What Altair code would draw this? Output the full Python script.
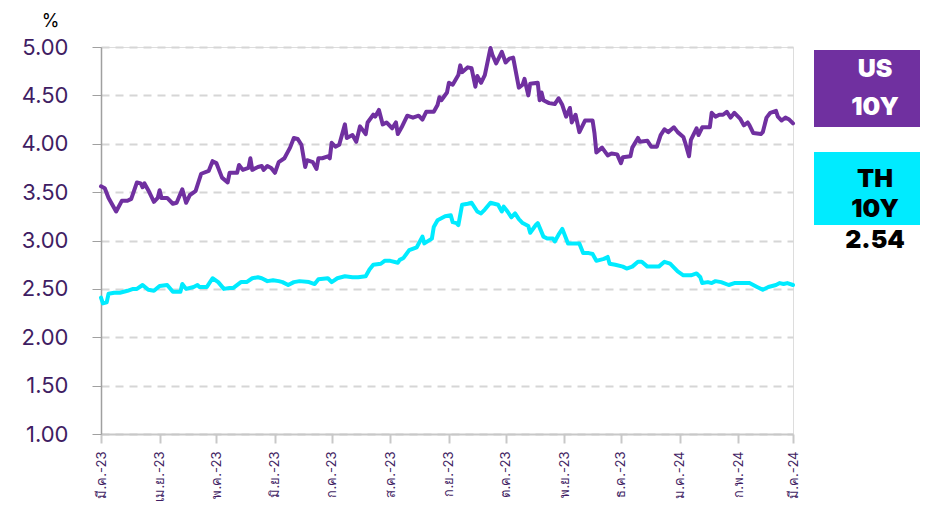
import altair as alt
import pandas as pd

start = "2023-03-01"
month_ticks = ["2023-03-01", "2023-04-01", "2023-05-01", "2023-06-01", "2023-07-01",
               "2023-08-01", "2023-09-01", "2023-10-01", "2023-11-01", "2023-12-01",
               "2024-01-01", "2024-02-01", "2024-03-01"]
thai_months = ["ม.ค.", "ก.พ.", "มี.ค.", "เม.ย.", "พ.ค.", "มิ.ย.", "ก.ค.", "ส.ค.", "ก.ย.", "ต.ค.", "พ.ย.", "ธ.ค."]
y_ticks = [1.0, 1.5, 2.0, 2.5, 3.0, 3.5, 4.0, 4.5, 5.0]

# days since 2023-03-01, yield (%)
us_days = [0, 2, 4, 6, 8, 11, 14, 16, 19, 21, 22, 23, 25, 28, 30, 31, 32, 35, 38, 40,
           43, 45, 47, 50, 53, 57, 59, 61, 64, 67, 68, 72, 73, 75, 78, 79, 80, 83, 85, 86,
           88, 90, 92, 94, 97, 100, 102, 104, 106, 108, 109, 112, 114, 115, 117, 120, 121, 122, 124, 126,
           129, 130, 133, 135, 137, 140, 141, 144, 145, 147, 149, 151, 154, 156, 157, 159, 162, 165, 168, 170,
           172, 176, 178, 179, 180, 183, 184, 186, 189, 190, 191, 194, 196, 198, 199, 201, 203, 206, 207, 209,
           212, 214, 216, 218, 221, 223, 224, 226, 227, 231, 232, 233, 234, 237, 240, 242, 244, 246, 248, 249,
           251, 253, 256, 260, 261, 262, 265, 268, 270, 273, 275, 276, 280, 281, 284, 285, 289, 291, 294, 296,
           298, 300, 303, 305, 308, 309, 311, 312, 315, 316, 318, 322, 323, 325, 327, 329, 331, 333, 335, 338,
           340, 342, 343, 345, 349, 350, 352, 354, 357, 358, 360, 362, 364, 366]
us_vals = [3.56, 3.54, 3.44, 3.37, 3.30, 3.41, 3.41, 3.43, 3.60, 3.59, 3.55, 3.59, 3.52, 3.40, 3.44, 3.52, 3.44, 3.44, 3.38, 3.39,
           3.53, 3.39, 3.47, 3.51, 3.69, 3.72, 3.82, 3.80, 3.65, 3.60, 3.70, 3.70, 3.78, 3.73, 3.75, 3.85, 3.73, 3.76, 3.77, 3.73,
           3.77, 3.75, 3.70, 3.81, 3.85, 3.96, 4.06, 4.05, 3.99, 3.76, 3.83, 3.81, 3.74, 3.85, 3.85, 3.87, 3.85, 4.01, 3.97, 3.99,
           4.20, 4.06, 4.09, 4.02, 4.18, 4.10, 4.22, 4.30, 4.28, 4.35, 4.20, 4.22, 4.16, 4.22, 4.10, 4.17, 4.29, 4.27, 4.29, 4.25,
           4.33, 4.33, 4.40, 4.48, 4.45, 4.53, 4.63, 4.61, 4.71, 4.81, 4.74, 4.79, 4.78, 4.59, 4.70, 4.63, 4.71, 4.99, 4.92, 4.83,
           4.95, 4.84, 4.88, 4.89, 4.58, 4.61, 4.67, 4.50, 4.62, 4.63, 4.45, 4.53, 4.45, 4.42, 4.41, 4.47, 4.40, 4.28, 4.37, 4.22,
           4.30, 4.12, 4.24, 4.24, 4.11, 3.91, 3.96, 3.88, 3.90, 3.89, 3.80, 3.86, 3.87, 3.96, 4.06, 4.02, 4.03, 3.97, 3.97, 4.09,
           4.15, 4.12, 4.17, 4.12, 4.07, 4.01, 3.87, 4.04, 4.16, 4.09, 4.17, 4.17, 4.32, 4.28, 4.30, 4.30, 4.33, 4.27, 4.32, 4.26,
           4.19, 4.22, 4.19, 4.11, 4.10, 4.12, 4.27, 4.32, 4.34, 4.28, 4.24, 4.27, 4.25, 4.21]

th_days = [0, 1, 3, 4, 7, 10, 14, 17, 19, 22, 25, 28, 31, 35, 38, 40, 42, 43, 45, 49,
           51, 52, 56, 59, 62, 65, 68, 70, 74, 77, 80, 83, 85, 88, 91, 94, 96, 99, 102, 105,
           110, 113, 115, 120, 122, 125, 129, 133, 136, 140, 142, 144, 148, 150, 153, 157, 158, 160, 163, 167,
           170, 171, 175, 176, 178, 182, 185, 186, 188, 189, 191, 194, 196, 199, 201, 203, 206, 208, 210, 212,
           213, 215, 217, 219, 221, 223, 226, 227, 230, 231, 234, 236, 239, 240, 242, 244, 247, 250, 253, 255,
           258, 260, 262, 266, 268, 269, 272, 276, 278, 281, 284, 286, 289, 292, 295, 298, 301, 305, 308, 312,
           315, 317, 318, 321, 323, 325, 328, 332, 335, 340, 343, 347, 350, 353, 357, 359, 361, 363, 366]
th_vals = [2.41, 2.35, 2.36, 2.45, 2.46, 2.46, 2.48, 2.50, 2.50, 2.54, 2.49, 2.48, 2.53, 2.54, 2.47, 2.47, 2.47, 2.55, 2.50, 2.52,
           2.54, 2.52, 2.52, 2.61, 2.57, 2.50, 2.51, 2.51, 2.57, 2.57, 2.61, 2.62, 2.61, 2.58, 2.59, 2.58, 2.57, 2.54, 2.57, 2.58,
           2.57, 2.55, 2.60, 2.61, 2.57, 2.61, 2.63, 2.62, 2.62, 2.63, 2.70, 2.75, 2.76, 2.79, 2.79, 2.77, 2.80, 2.82, 2.90, 2.93,
           3.04, 2.97, 3.02, 3.14, 3.21, 3.25, 3.26, 3.19, 3.18, 3.16, 3.37, 3.38, 3.39, 3.30, 3.28, 3.32, 3.39, 3.38, 3.37, 3.30,
           3.35, 3.30, 3.24, 3.28, 3.22, 3.18, 3.15, 3.08, 3.16, 3.18, 3.04, 3.02, 3.02, 2.99, 3.06, 3.12, 2.97, 2.97, 2.97, 2.87,
           2.87, 2.86, 2.79, 2.81, 2.83, 2.76, 2.75, 2.73, 2.71, 2.73, 2.78, 2.78, 2.73, 2.73, 2.73, 2.78, 2.76, 2.68, 2.64, 2.64,
           2.66, 2.62, 2.56, 2.57, 2.56, 2.58, 2.57, 2.54, 2.56, 2.56, 2.56, 2.52, 2.49, 2.52, 2.54, 2.56, 2.55, 2.56, 2.54]

series = ["US 10Y", "TH 10Y"]
colors = ["#7030A0", "#00EBFF"]
us_last = "4.21"
th_last = "2.54"

base = pd.Timestamp(start)
df = pd.concat([
    pd.DataFrame({"date": base + pd.to_timedelta(us_days, unit="D"), "value": us_vals, "series": series[0]}),
    pd.DataFrame({"date": base + pd.to_timedelta(th_days, unit="D"), "value": th_vals, "series": series[1]}),
])
df["date"] = df["date"].dt.strftime("%Y-%m-%dT00:00:00")

FONT = "Inter"
LABEL_COLOR = "#3F1D63"

def dt(s):
    y, m, d = (int(p) for p in s.split("-"))
    return alt.DateTime(year=y, month=m, date=d)

month_arr = "[" + ",".join("'" + m + "'" for m in thai_months) + "]"

lines = alt.Chart(df).mark_line(strokeWidth=4, strokeJoin="round", strokeCap="round").encode(
    x=alt.X("date:T",
            scale=alt.Scale(domain=[dt(month_ticks[0]), dt(month_ticks[-1])]),
            axis=alt.Axis(values=[dt(m) for m in month_ticks],
                          labelExpr=month_arr + "[month(datum.value)] + '-' + timeFormat(datum.value, '%y')",
                          labelAngle=-90, labelFontSize=13, labelColor=LABEL_COLOR, labelFont=FONT,
                          labelPadding=8, tickSize=9, tickColor="#C8C8C8", tickWidth=2,
                          domainColor="#C8C8C8", domainWidth=2, grid=False, title=None,
                          labelOverlap=False, labelFlush=False)),
    y=alt.Y("value:Q",
            scale=alt.Scale(domain=[1, 5], nice=False, zero=False),
            axis=alt.Axis(values=y_ticks, format=".2f", labelFontSize=22, labelColor=LABEL_COLOR,
                          labelFont=FONT, labelPadding=24, tickSize=9, tickColor="#A0A0A0",
                          domainColor="#A0A0A0", domainWidth=1.5,
                          grid=True, gridDash=[8, 6], gridColor="#D6D6D6", gridWidth=2,
                          title="%", titleAngle=0, titleX=-51, titleY=-21, titleAlign="center",
                          titleBaseline="alphabetic",
                          titleFontSize=18, titleFontWeight="normal", titleColor="#000000", titleFont=FONT)),
    color=alt.Color("series:N", scale=alt.Scale(domain=series, range=colors), legend=None),
)

one = alt.Data(values=[{}])

def box(y0, y1, color):
    return alt.Chart(one).mark_rect(color=color).encode(
        x=alt.value(713), x2=alt.value(840), y=alt.value(y0), y2=alt.value(y1))

def label(text, y, color, size=25):
    return alt.Chart(one).mark_text(text=text, font=FONT, fontSize=size, fontWeight=900,
                                    color=color, align="center", baseline="alphabetic").encode(
        x=alt.value(774), y=alt.value(y))

us_box = box(3, 80, colors[0])
th_box = box(105, 178, colors[1])

chart = alt.layer(
    lines,
    label(us_last, 96, "#FFFFFF"),
    us_box,
    label("US", 30, "#FFFFFF"),
    label("10Y", 68, "#FFFFFF"),
    th_box,
    label("TH", 140, "#000000"),
    label("10Y", 170, "#000000"),
    label(th_last, 201, "#000000"),
).properties(
    width=692, height=387,
    padding={"left": 93, "top": 39, "right": 127, "bottom": 67},
    autosize=alt.AutoSizeParams(type="none"),
).configure_view(stroke=None).configure(background="#FFFFFF")

chart.save("out.html", embed_options={"renderer": "svg", "actions": False})
